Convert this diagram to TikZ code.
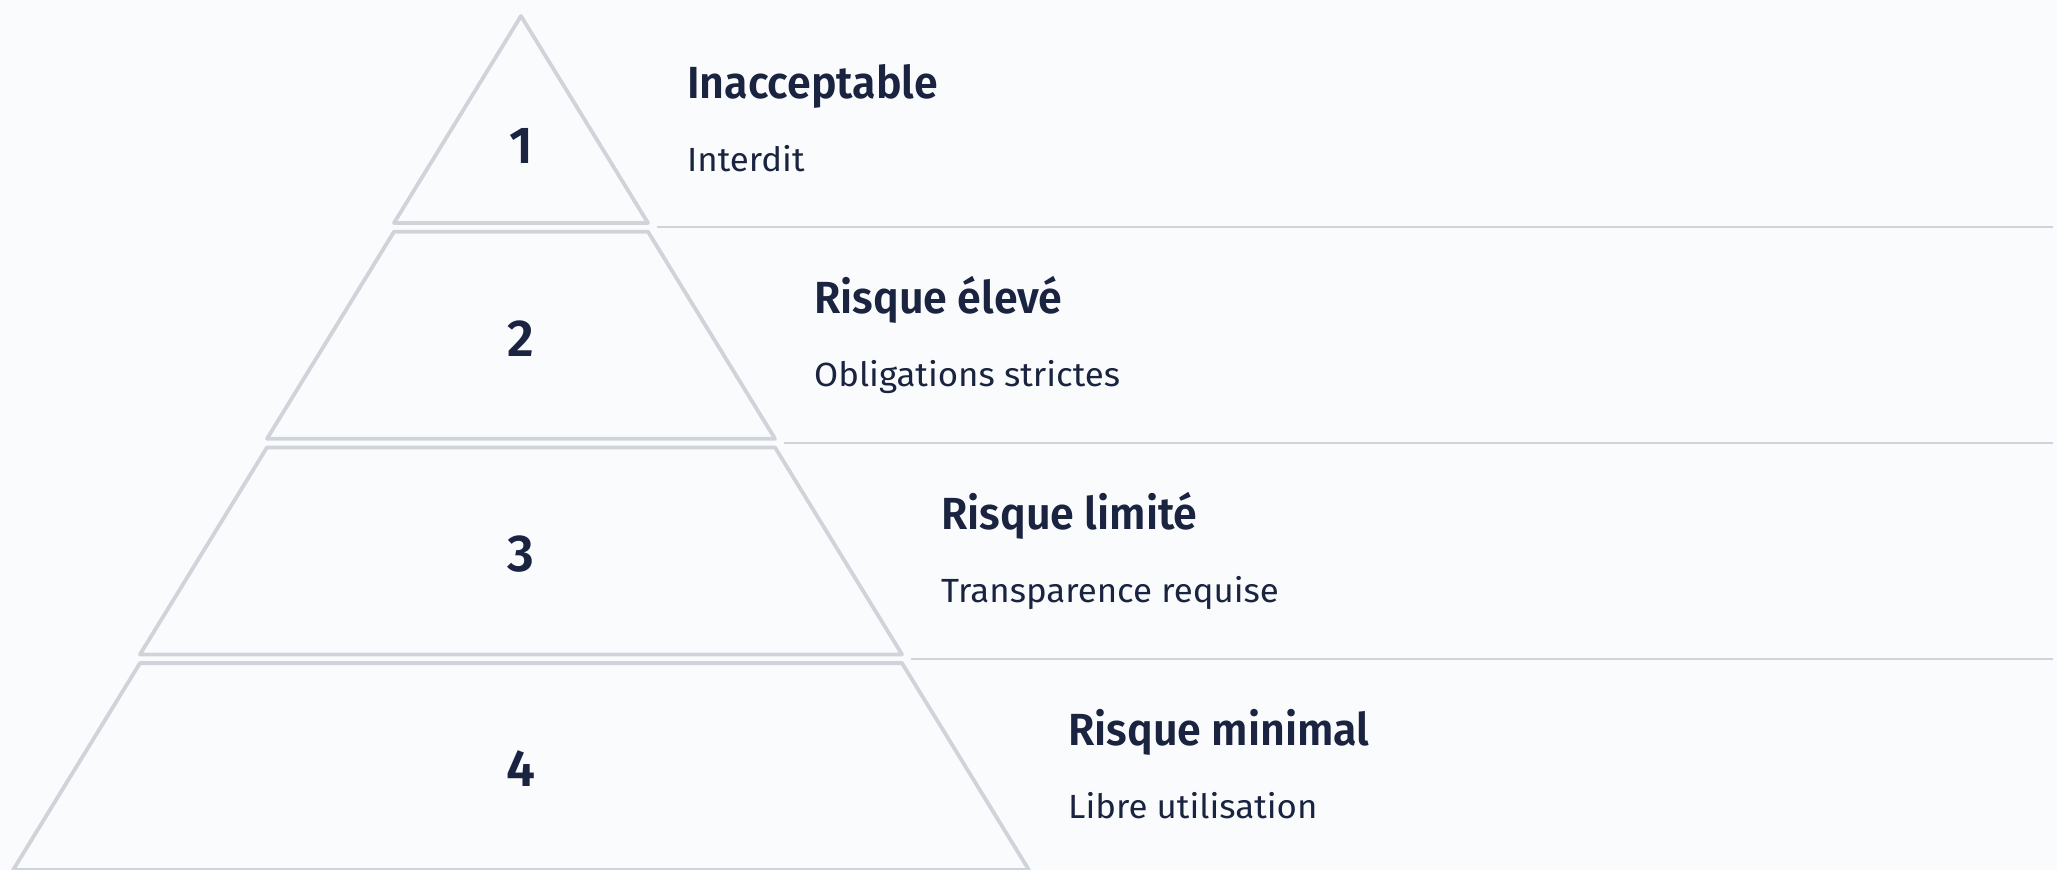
\documentclass[tikz,border=0pt]{standalone}
\usepackage{fontspec}
\setmainfont{Fira Sans}[BoldFont={Fira Sans SemiBold}]
\newfontfamily\ttlfont{Fira Sans SemiBold}[FakeStretch=0.955]
\newfontfamily\subfont{Fira Sans}[FakeStretch=1.04]
\definecolor{bgc}{HTML}{F9FBFC}
\definecolor{edge}{HTML}{D0D4DA}
\definecolor{ink}{HTML}{1A2440}
\begin{document}
\begin{tikzpicture}[x=1pt,y=-1pt,
  tier/.style={draw=edge,line width=3.8pt,line join=round,fill=bgc},
  sepline/.style={draw=edge,line width=1.9pt},
  num/.style={anchor=base,text=ink,font=\fontsize{52}{52}\selectfont\bfseries,inner sep=0pt},
  ttl/.style={anchor=base west,text=ink,font=\fontsize{45}{45}\selectfont\ttlfont,inner sep=0pt},
  sub/.style={anchor=base west,text=ink,font=\fontsize{33.5}{33.5}\selectfont\subfont,inner sep=0pt}]
\fill[bgc] (0,0) rectangle (2057,870);
\useasboundingbox (0,0) rectangle (2057,870);
% tiers
\draw[tier] (521,16) -- (648,223) -- (394,223) -- cycle;
\draw[tier] (394,231.7) -- (648,231.7) -- (775,438.7) -- (267,438.7) -- cycle;
\draw[tier] (267,447.4) -- (775,447.4) -- (902,654.4) -- (140,654.4) -- cycle;
\draw[tier] (140,663.1) -- (902,663.1) -- (1029,870.1) -- (13,870.1) -- cycle;
% separators
\coordinate (s1a) at (657,227.4); \coordinate (s1b) at (2053,227.4);
\coordinate (s2a) at (784,443);   \coordinate (s2b) at (2053,443);
\coordinate (s3a) at (911,658.8); \coordinate (s3b) at (2053,658.8);
\draw[sepline] (s1a) -- (s1b);
\draw[sepline] (s2a) -- (s2b);
\draw[sepline] (s3a) -- (s3b);
% numbers
\node[num] (n1) at (521,163) {1};
\node[num] (n2) at (521,356) {2};
\node[num] (n3) at (521,571) {3};
\node[num] (n4) at (521,786) {4};
% titles
\node[ttl] (t1) at (687,98) {Inacceptable};
\node[sub] (d1) at (687,171) {Interdit};
\node[ttl] (t2) at (814,313.7) {Risque élevé};
\node[sub] (d2) at (814,386.7) {Obligations strictes};
\node[ttl] (t3) at (941,529.4) {Risque limité};
\node[sub] (d3) at (941,602.4) {Transparence requise};
\node[ttl] (t4) at (1068,745.1) {Risque minimal};
\node[sub] (d4) at (1068,818.1) {Libre utilisation};
\end{tikzpicture}
\end{document}
